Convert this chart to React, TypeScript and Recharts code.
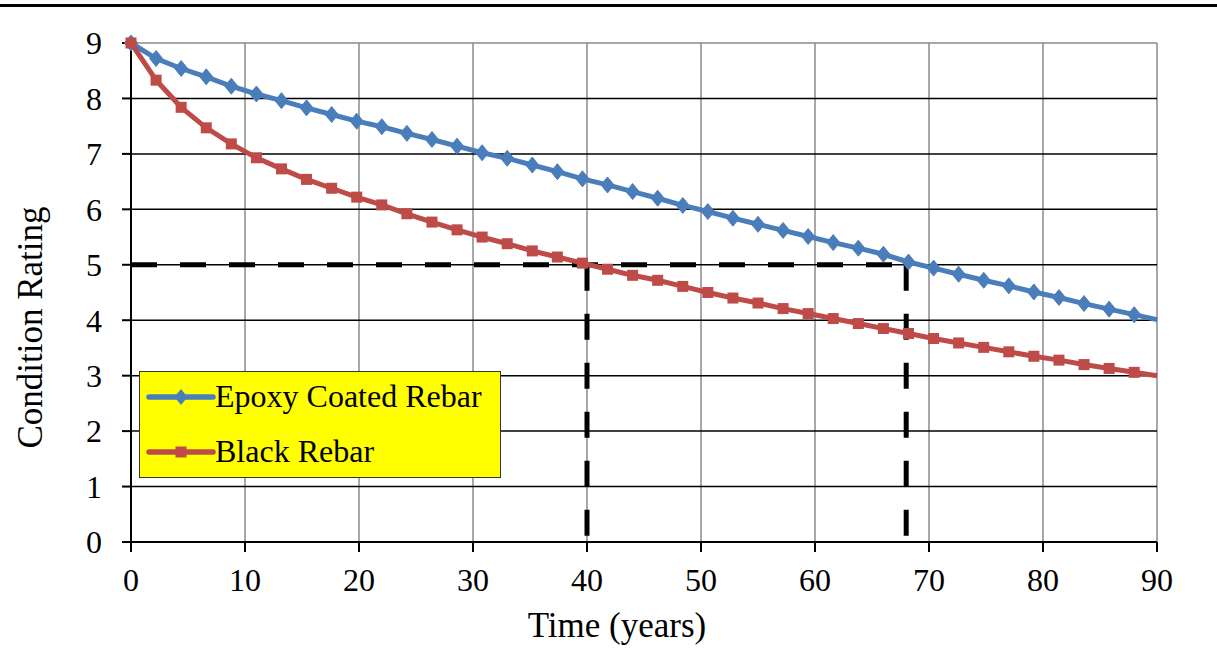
import React from 'react';
import { LineChart, Line, XAxis, YAxis, CartesianGrid, ReferenceLine, Legend, Label } from 'recharts';

const TIMES = [0, 2.2, 4.4, 6.6, 8.8, 11, 13.2, 15.4, 17.6, 19.8, 22, 24.2, 26.4, 28.6, 30.8, 33, 35.2, 37.4, 39.6, 41.8, 44, 46.2, 48.4, 50.6, 52.8, 55, 57.2, 59.4, 61.6, 63.8, 66, 68.2, 70.4, 72.6, 74.8, 77, 79.2, 81.4, 83.6, 85.8, 88, 90];
const EPOXY = [9.0, 8.72, 8.54, 8.39, 8.22, 8.08, 7.96, 7.83, 7.71, 7.59, 7.49, 7.37, 7.26, 7.14, 7.02, 6.92, 6.8, 6.68, 6.55, 6.44, 6.32, 6.2, 6.07, 5.96, 5.84, 5.73, 5.62, 5.51, 5.4, 5.3, 5.19, 5.05, 4.94, 4.83, 4.72, 4.62, 4.51, 4.41, 4.3, 4.2, 4.1, 4.01];
const BLACK = [9.0, 8.33, 7.84, 7.47, 7.18, 6.93, 6.73, 6.54, 6.38, 6.22, 6.08, 5.92, 5.77, 5.63, 5.5, 5.38, 5.25, 5.14, 5.03, 4.92, 4.81, 4.72, 4.61, 4.5, 4.4, 4.31, 4.21, 4.12, 4.03, 3.94, 3.85, 3.76, 3.67, 3.59, 3.51, 3.43, 3.35, 3.28, 3.2, 3.13, 3.06, 3.0];
const X_TICKS = [0, 10, 20, 30, 40, 50, 60, 70, 80, 90];
const Y_TICKS = [0, 1, 2, 3, 4, 5, 6, 7, 8, 9];
const BLACK_GRID_Y = [1, 2, 3, 4, 5, 6, 7, 8];
const GREY_GRID_Y = [9];
const GREY_GRID_X = [10, 20, 30, 40, 50, 60, 70, 80, 90];
const THRESHOLD = 5;
const LIFE_BLACK = 40;
const LIFE_EPOXY = 68;

const SERIES_EPOXY = 'Epoxy Coated Rebar';
const SERIES_BLACK = 'Black Rebar';
const LEGEND_ORDER = [SERIES_EPOXY, SERIES_BLACK];

const data = TIMES.map((t, i) => ({ t, epoxy: EPOXY[i], black: BLACK[i] }));

const FONT = "'Liberation Serif', 'Times New Roman', serif";
const BLUE = '#4A7EBB';
const RED = '#BE4B48';
const LAST = TIMES.length - 1;

const DiamondDot = (props: any) => {
  const { cx, cy, index } = props;
  if (index === LAST || cx == null || cy == null) return <g key={`d${index}`} />;
  return (
    <path
      key={`d${index}`}
      d={`M${cx},${cy - 8} L${cx + 6.5},${cy} L${cx},${cy + 8} L${cx - 6.5},${cy} Z`}
      fill={BLUE}
      stroke={BLUE}
      strokeWidth={1}
    />
  );
};

const SquareDot = (props: any) => {
  const { cx, cy, index } = props;
  if (index === LAST || cx == null || cy == null) return <g key={`s${index}`} />;
  return <rect key={`s${index}`} x={cx - 5.5} y={cy - 5.5} width={11} height={11} fill={RED} />;
};

const YTitle = (props: any) => {
  const vb = props.viewBox || { x: 0, y: 43, width: 131, height: 499 };
  const cx = vb.x + 42;
  const cy = vb.y + vb.height / 2 + 35;
  return (
    <text
      x={cx}
      y={cy}
      transform={`rotate(-90 ${cx} ${cy})`}
      textAnchor="middle"
      fontFamily={FONT}
      fontSize={35}
      fill="#000"
    >
      Condition Rating
    </text>
  );
};

const XTitle = (props: any) => {
  const vb = props.viewBox || { x: 131, y: 542, width: 1026, height: 120 };
  const cx = vb.x + vb.width / 2 - 27;
  const cy = vb.y + 95;
  return (
    <text x={cx} y={cy} textAnchor="middle" fontFamily={FONT} fontSize={35} fill="#000">
      Time (years)
    </text>
  );
};

const LegendBox = (props: any) => {
  const payload = (props.payload || []) as any[];
  const rows = LEGEND_ORDER.map((name) => {
    const found = payload.find((p) => p.value === name);
    return { value: name, color: found && found.color ? found.color : name === SERIES_EPOXY ? BLUE : RED };
  });
  return (
    <div
      style={{
        position: 'relative',
        width: 362,
        height: 107,
        background: '#FFFF00',
        border: '1.5px solid #333',
        boxSizing: 'border-box',
        fontFamily: FONT,
        fontSize: 32,
        color: '#000',
      }}
    >
      {rows.map((entry, i) => {
        const lineY = 25 + i * 55;
        const isEpoxy = entry.value === SERIES_EPOXY;
        const color = entry.color;
        return (
          <React.Fragment key={entry.value}>
            <svg
              width={70}
              height={20}
              style={{ position: 'absolute', left: 6, top: lineY - 10 }}
            >
              <line x1={3} y1={10} x2={67} y2={10} stroke={color} strokeWidth={5.5} strokeLinecap="round" />
              {isEpoxy ? (
                <path d="M35,2 L41.5,10 L35,18 L28.5,10 Z" fill={color} />
              ) : (
                <rect x={29.5} y={4.5} width={11} height={11} fill={color} />
              )}
            </svg>
            <span
              style={{
                position: 'absolute',
                left: 75,
                top: lineY - 17,
                lineHeight: '32px',
                whiteSpace: 'nowrap',
              }}
            >
              {entry.value}
            </span>
          </React.Fragment>
        );
      })}
    </div>
  );
};

export default function App() {
  return (
    <div style={{ position: 'absolute', left: 0, top: 0, width: 1217, height: 662, background: '#fff' }}>
      <div style={{ position: 'absolute', left: 0, top: 4, width: 1217, height: 3, background: '#000' }} />
      <LineChart
        width={1217}
        height={662}
        data={data}
        margin={{ top: 43, right: 60, bottom: 0, left: 0 }}
      >
        <CartesianGrid
          stroke="#8a8a8a"
          strokeWidth={1.5}
          horizontalValues={GREY_GRID_Y}
          verticalValues={GREY_GRID_X}
        />
        <CartesianGrid
          stroke="#000"
          strokeWidth={1.5}
          vertical={false}
          horizontalValues={BLACK_GRID_Y}
        />
        <XAxis
          type="number"
          dataKey="t"
          domain={[0, 90]}
          ticks={X_TICKS}
          interval={0}
          height={120}
          tickSize={10}
          tickMargin={16}
          axisLine={{ stroke: '#000', strokeWidth: 2 }}
          tickLine={{ stroke: '#000', strokeWidth: 2 }}
          tick={{ fill: '#000', fontSize: 32, fontFamily: FONT }}
        >
          <Label content={<XTitle />} />
        </XAxis>
        <YAxis
          type="number"
          domain={[0, 9]}
          ticks={Y_TICKS}
          interval={0}
          width={131}
          tickSize={9}
          tickMargin={20}
          axisLine={{ stroke: '#000', strokeWidth: 2 }}
          tickLine={{ stroke: '#000', strokeWidth: 2 }}
          tick={{ fill: '#000', fontSize: 32, fontFamily: FONT }}
        >
          <Label content={<YTitle />} />
        </YAxis>
        <ReferenceLine
          segment={[{ x: 0, y: THRESHOLD }, { x: LIFE_EPOXY, y: THRESHOLD }]}
          stroke="#000"
          strokeWidth={5}
          strokeDasharray="26 23"
        />
        <ReferenceLine
          segment={[{ x: LIFE_BLACK, y: THRESHOLD }, { x: LIFE_BLACK, y: 0 }]}
          stroke="#000"
          strokeWidth={5}
          strokeDasharray="26 23"
        />
        <ReferenceLine
          segment={[{ x: LIFE_EPOXY, y: THRESHOLD }, { x: LIFE_EPOXY, y: 0 }]}
          stroke="#000"
          strokeWidth={5}
          strokeDasharray="26 23"
        />
        <Line
          type="linear"
          dataKey="epoxy"
          name={SERIES_EPOXY}
          stroke={BLUE}
          strokeWidth={5}
          dot={DiamondDot}
          activeDot={false}
          isAnimationActive={false}
        />
        <Line
          type="linear"
          dataKey="black"
          name={SERIES_BLACK}
          stroke={RED}
          strokeWidth={5}
          dot={SquareDot}
          activeDot={false}
          isAnimationActive={false}
        />
        <Legend
          layout="vertical"
          align="center"
          verticalAlign="middle"
          content={<LegendBox />}
          wrapperStyle={{ left: 139, top: 371, width: 362, height: 107 }}
        />
      </LineChart>
    </div>
  );
}
